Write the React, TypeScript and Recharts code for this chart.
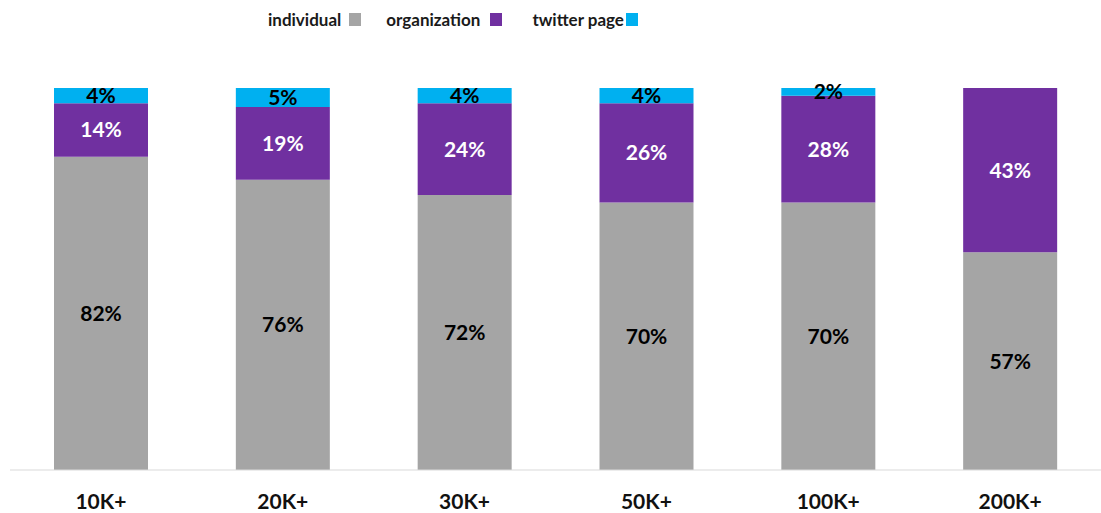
import { BarChart, Bar, XAxis, YAxis, LabelList } from 'recharts';

const categories = ['10K+', '20K+', '30K+', '50K+', '100K+', '200K+'];
const individual = [82, 76, 72, 70, 70, 57];
const organization = [14, 19, 24, 26, 28, 43];
const twitterPage = [4, 5, 4, 4, 2, 0];

const data = categories.map((name, i) => ({
  name,
  individual: individual[i],
  organization: organization[i],
  twitter: twitterPage[i],
}));

const series = [
  { key: 'individual', label: 'individual', color: '#A5A5A5', text: '#000000' },
  { key: 'organization', label: 'organization', color: '#7030A0', text: '#FFFFFF' },
  { key: 'twitter', label: 'twitter page', color: '#00B0F0', text: '#000000' },
];

const FONT = 'Lato, "Open Sans", sans-serif';

const pct = (v: any) => (v ? `${v}%` : '');

const LegendBox = () => (
  <div
    style={{
      position: 'absolute',
      top: 9,
      left: 268,
      display: 'flex',
      fontFamily: FONT,
      fontWeight: 700,
      fontSize: 17,
      color: '#1a1a1a',
    }}
  >
    {series.map((s, i) => (
      <div key={s.key} style={{ display: 'flex', alignItems: 'center', marginRight: i === 0 ? 25 : i === 1 ? 30 : 0 }}>
        <span>{s.label}</span>
        <span
          style={{
            display: 'inline-block',
            width: 12,
            height: 13,
            background: s.color,
            marginLeft: i === 2 ? 2 : i === 1 ? 10 : 8,
          }}
        />
      </div>
    ))}
  </div>
);

const Tick = ({ x, y, payload }: any) => (
  <text x={x} y={y + 31} textAnchor="middle" fontFamily={FONT} fontWeight={700} fontSize={21} fill="#111">
    {payload.value}
  </text>
);

export default function App() {
  return (
    <div style={{ position: 'relative', width: 1101, height: 513 }}>
      <style>{`body{margin:0}`}</style>
      <LegendBox />
      <BarChart width={1101} height={513} data={data} margin={{ top: 88, right: 0, left: 10, bottom: 0 }} barSize={94}>
        <XAxis
          dataKey="name"
          axisLine={{ stroke: '#D9D9D9' }}
          tickLine={false}
          height={43}
          tick={<Tick />}
          interval={0}
        />
        <YAxis hide domain={[0, 100]} />
        {series.map((s) => (
          <Bar key={s.key} dataKey={s.key} stackId="a" fill={s.color} isAnimationActive={false}>
            <LabelList
              dataKey={s.key}
              position="center"
              formatter={pct}
              fill={s.text}
              fontFamily={FONT}
              fontWeight={700}
              fontSize={21}
            />
          </Bar>
        ))}
      </BarChart>
    </div>
  );
}
